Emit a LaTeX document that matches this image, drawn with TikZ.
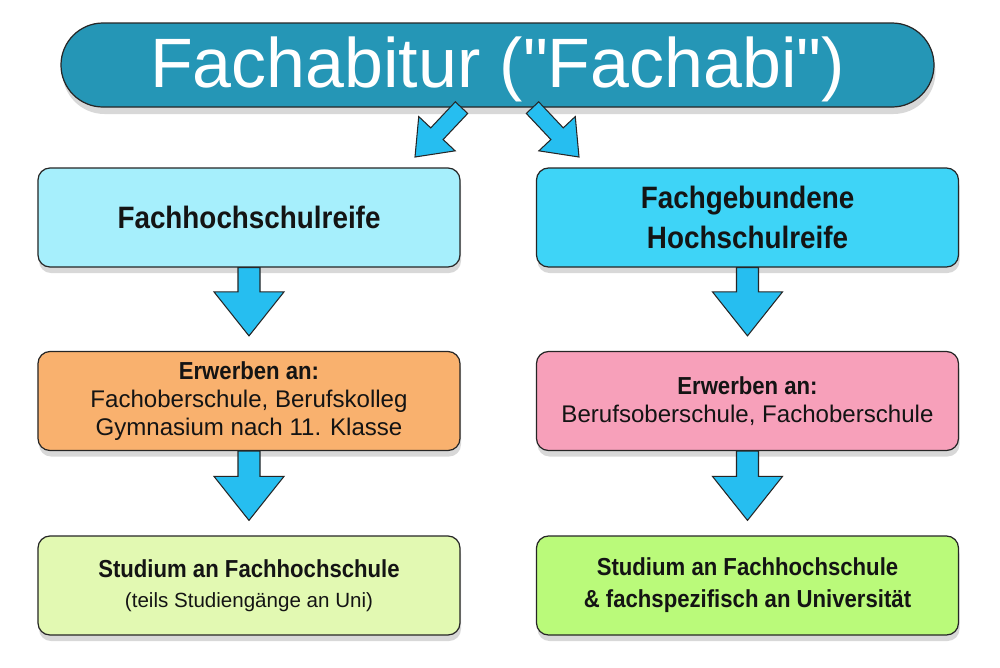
\documentclass[tikz,border=0pt]{standalone}
\usepackage{fontspec}
\setmainfont{Liberation Sans}
\newfontfamily\cnd[FakeStretch=0.9]{Liberation Sans}
\newfontfamily\titlefont[Ligatures=TeXOff]{Liberation Sans}
\usetikzlibrary{calc,shadows}

\definecolor{titleteal}{RGB}{37,150,182}
\definecolor{cyanlight}{RGB}{166,239,252}
\definecolor{cyandeep}{RGB}{62,212,247}
\definecolor{orangebox}{RGB}{249,177,110}
\definecolor{pinkbox}{RGB}{247,160,186}
\definecolor{greenlight}{RGB}{226,249,178}
\definecolor{greendeep}{RGB}{186,250,122}
\definecolor{arrowblue}{RGB}{38,190,240}

\tikzset{
  ba shaft/.initial=2.2mm,
  ba head/.initial=7mm,
  ba len/.initial=8.8mm,
  ba gap/.initial=3mm,
  blockarrow/.style={draw=black!85, line width=0.6pt, fill=arrowblue, line join=miter,
    to path={
      ($(\tikztostart)!\pgfkeysvalueof{/tikz/ba shaft}!90:(\tikztotarget)$)
      -- ($(\tikztotarget)!{\pgfkeysvalueof{/tikz/ba gap}+\pgfkeysvalueof{/tikz/ba len}}!(\tikztostart)!\pgfkeysvalueof{/tikz/ba shaft}!90:(\tikztotarget)$)
      -- ($(\tikztotarget)!{\pgfkeysvalueof{/tikz/ba gap}+\pgfkeysvalueof{/tikz/ba len}}!(\tikztostart)!\pgfkeysvalueof{/tikz/ba head}!90:(\tikztotarget)$)
      -- ($(\tikztotarget)!\pgfkeysvalueof{/tikz/ba gap}!(\tikztostart)$)
      -- ($(\tikztotarget)!{\pgfkeysvalueof{/tikz/ba gap}+\pgfkeysvalueof{/tikz/ba len}}!(\tikztostart)!\pgfkeysvalueof{/tikz/ba head}!-90:(\tikztotarget)$)
      -- ($(\tikztotarget)!{\pgfkeysvalueof{/tikz/ba gap}+\pgfkeysvalueof{/tikz/ba len}}!(\tikztostart)!\pgfkeysvalueof{/tikz/ba shaft}!-90:(\tikztotarget)$)
      -- ($(\tikztostart)!\pgfkeysvalueof{/tikz/ba shaft}!-90:(\tikztotarget)$)
      -- cycle}}
}

\begin{document}
\begin{tikzpicture}[x=0.2mm, y=-0.2mm,
    box/.style={draw=black!85, line width=0.7pt, rounded corners=2.4mm,
      minimum width=84.4mm, minimum height=19.8mm, inner sep=0pt, align=center,
      text=black!92, drop shadow={shadow xshift=0.2mm, shadow yshift=-1.2mm, opacity=0.3}},
    headtxt/.style={font=\cnd\bfseries\fontsize{17.6}{22.8}\selectfont},
    subtxt/.style={font=\cnd\bfseries\fontsize{14}{18.2}\selectfont},
    plaintxt/.style={font=\fontsize{13.7}{16}\selectfont}]

    % canvas, pixel grid of the original
    \fill [white] (0, 0) rectangle (1000, 667);
    \useasboundingbox (0, 0) rectangle (1000, 667);

% Title
    \node [draw=black!85, line width=0.7pt, fill=titleteal, text=white,
        rounded corners=8.4mm, minimum width=174.6mm, minimum height=16.8mm, inner sep=0pt,
        font=\titlefont\fontsize{39.8}{44}\selectfont, text depth=3.4pt,
        drop shadow={shadow xshift=0.3mm, shadow yshift=-1.4mm, opacity=0.3}]
        (title) at (497.5, 65) {Fachabitur ("Fachabi")};

% Left column
    \node [box, fill=cyanlight, headtxt] (fhr) at (249, 217.5) {Fachhochschulreife};
    \node [box, fill=orangebox, plaintxt] (erwl) at (249, 401)
        {{\cnd\bfseries\fontsize{14}{16}\selectfont Erwerben an:}\\
         Fachoberschule, Berufskolleg\\
         Gymnasium nach 11. Klasse};
    \node [box, fill=greenlight, font=\fontsize{11.7}{17}\selectfont] (stul) at (249, 585.5)
        {{\cnd\bfseries\fontsize{14}{17}\selectfont Studium an Fachhochschule}\\
         (teils Studiengänge an Uni)};

% Right column
    \node [box, fill=cyandeep, headtxt] (fgh) at (747.5, 217.5) {Fachgebundene\\Hochschulreife};
    \node [box, fill=pinkbox, plaintxt] (erwr) at (747.5, 401)
        {{\cnd\bfseries\fontsize{14}{16}\selectfont Erwerben an:}\\
         Berufsoberschule, Fachoberschule};
    \node [box, fill=greendeep, subtxt] (stur) at (747.5, 585.5)
        {Studium an Fachhochschule\\\& fachspezifisch an Universität};

% Block arrows
    \coordinate (tipl) at (415, 157);
    \coordinate (tipr) at (579, 157);
    \begin{scope}[ba gap=0mm, ba len=6.4mm, ba shaft=1.7mm, ba head=5mm]
        \draw [blockarrow] ($(title.south) + (-36, 0)$) to (tipl);
        \draw [blockarrow] ($(title.south) + (35, 0)$) to (tipr);
    \end{scope}

    \draw [blockarrow] (fhr.south) to (erwl.north);
    \draw [blockarrow] (erwl.south) to (stul.north);
    \draw [blockarrow] (fgh.south) to (erwr.north);
    \draw [blockarrow] (erwr.south) to (stur.north);

\end{tikzpicture}
\end{document}
